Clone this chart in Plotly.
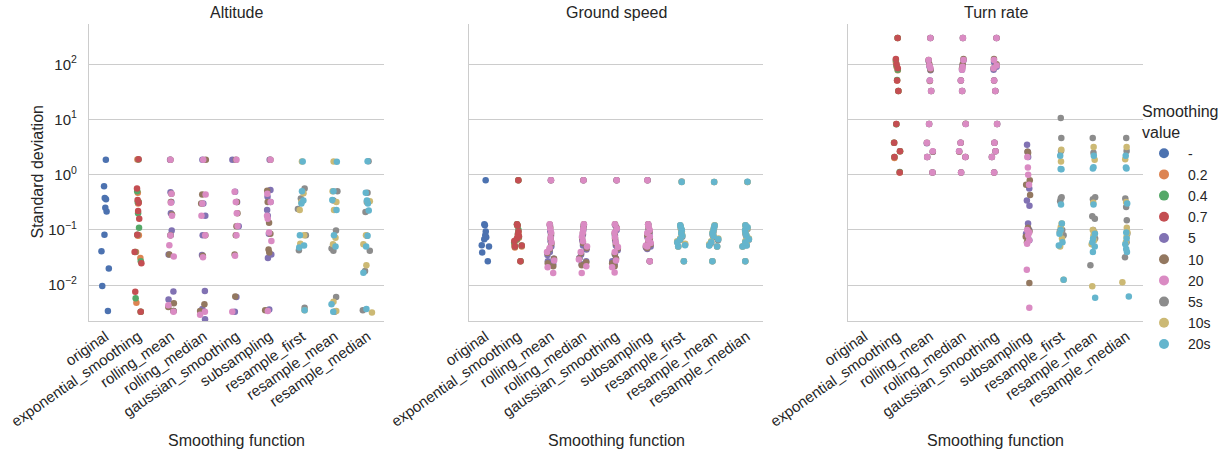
import plotly.graph_objects as go

# ---- categories, hues and colours -------------------------------------------
CATEGORIES = ["original", "exponential_smoothing", "rolling_mean", "rolling_median",
              "gaussian_smoothing", "subsampling", "resample_first", "resample_mean",
              "resample_median"]
HUES = ["-", "0.2", "0.4", "0.7", "5", "10", "20", "5s", "10s", "20s"]
HUE_COLORS = ["#4C72B0", "#DD8452", "#55A868", "#C44E52", "#8172B3",
              "#937860", "#DA8BC3", "#8C8C8C", "#CCB974", "#64B5CD"]
PANELS = ["Altitude", "Ground speed", "Turn rate"]
Y_TICK_VALUES = [0.01, 0.1, 1, 10, 100]
Y_TICK_TEXT = ["10<sup>−2</sup>", "10<sup>−1</sup>", "10<sup>0</sup>", "10<sup>1</sup>", "10<sup>2</sup>"]

# ---- Altitude: standard deviation per smoothing function and value ----------
alt_original = {"-": [1.87, 0.62, 0.377, 0.361, 0.252, 0.216, 0.082, 0.041, 0.020, 0.0096, 0.0034]}
alt_exponential_smoothing = {
    "0.2": [1.88, 0.47, 0.32, 0.30, 0.078, 0.08, 0.04, 0.031, 0.0048, 0.0033],
    "0.4": [1.88, 0.50, 0.32, 0.32, 0.20, 0.11, 0.082, 0.04, 0.027, 0.0058, 0.0033],
    "0.7": [1.90, 0.56, 0.35, 0.31, 0.22, 0.16, 0.082, 0.04, 0.025, 0.0076, 0.0033],
}
alt_rolling_mean = {
    "5": [1.87, 0.48, 0.32, 0.20, 0.098, 0.08, 0.036, 0.0077, 0.0055, 0.0034],
    "10": [1.87, 0.45, 0.32, 0.19, 0.08, 0.036, 0.0047, 0.004, 0.0034],
    "20": [1.87, 0.45, 0.31, 0.18, 0.079, 0.053, 0.033, 0.0043, 0.0033],
}
alt_rolling_median = {
    "5": [1.87, 0.30, 0.18, 0.08, 0.035, 0.0078, 0.0037, 0.0024],
    "10": [1.87, 0.44, 0.30, 0.08, 0.034, 0.0045, 0.0034],
    "20": [1.87, 0.44, 0.30, 0.18, 0.08, 0.032, 0.0033, 0.0029],
}
alt_gaussian_smoothing = {
    "5": [1.87, 0.49, 0.32, 0.116, 0.0061, 0.0033],
    "10": [1.87, 0.32, 0.20, 0.116, 0.08, 0.036, 0.0062],
    "20": [1.87, 0.49, 0.32, 0.20, 0.118, 0.08, 0.034, 0.0033],
}
alt_subsampling = {
    "5": [1.87, 0.53, 0.40, 0.32, 0.23, 0.18, 0.085, 0.036, 0.031, 0.0036],
    "10": [1.87, 0.51, 0.32, 0.135, 0.085, 0.044, 0.039, 0.0035],
    "20": [1.87, 0.45, 0.32, 0.18, 0.16, 0.09, 0.063, 0.0034],
}
alt_resample_first = {
    "5s": [0.56, 0.37, 0.24, 0.08, 0.043, 0.0039],
    "10s": [1.74, 0.46, 0.32, 0.23, 0.08, 0.056, 0.0035],
    "20s": [1.74, 0.50, 0.34, 0.30, 0.08, 0.052, 0.048, 0.0035],
}
alt_resample_mean = {
    "5s": [0.50, 0.34, 0.098, 0.046, 0.042, 0.0061, 0.0033],
    "10s": [1.74, 0.50, 0.32, 0.23, 0.072, 0.055, 0.005, 0.0034],
    "20s": [1.72, 0.50, 0.35, 0.23, 0.08, 0.05, 0.0045, 0.0033],
}
alt_resample_median = {
    "5s": [1.75, 0.47, 0.32, 0.21, 0.078, 0.042, 0.018, 0.0035],
    "10s": [0.33, 0.32, 0.08, 0.055, 0.023, 0.0032],
    "20s": [1.75, 0.47, 0.34, 0.30, 0.225, 0.078, 0.05, 0.0167, 0.0037],
}

# ---- Ground speed -----------------------------------------------------------
gs_original = {"-": [0.79, 0.126, 0.122, 0.094, 0.08, 0.074, 0.068, 0.053, 0.05, 0.039, 0.027]}
gs_exponential_smoothing = {
    "0.2": [0.79, 0.125, 0.118, 0.09, 0.08, 0.072, 0.066, 0.055, 0.05, 0.048, 0.027],
    "0.4": [0.79, 0.126, 0.12, 0.1, 0.085, 0.075, 0.068, 0.06, 0.052, 0.05, 0.027],
    "0.7": [0.795, 0.127, 0.12, 0.094, 0.082, 0.077, 0.07, 0.063, 0.052, 0.05, 0.027],
}
gs_rolling_mean = {
    "5": [0.79, 0.12, 0.095, 0.078, 0.062, 0.05, 0.04, 0.035, 0.03, 0.027, 0.024],
    "10": [0.79, 0.125, 0.11, 0.085, 0.07, 0.057, 0.045, 0.038, 0.03, 0.025, 0.022],
    "20": [0.79, 0.126, 0.105, 0.09, 0.072, 0.06, 0.047, 0.04, 0.028, 0.021, 0.0165],
}
gs_rolling_median = {
    "5": [0.79, 0.12, 0.1, 0.083, 0.065, 0.052, 0.044, 0.036, 0.031, 0.027, 0.024],
    "10": [0.795, 0.126, 0.11, 0.088, 0.072, 0.058, 0.047, 0.038, 0.03, 0.026, 0.023],
    "20": [0.79, 0.126, 0.105, 0.09, 0.075, 0.062, 0.05, 0.04, 0.029, 0.022, 0.0165],
}
gs_gaussian_smoothing = {
    "5": [0.79, 0.122, 0.1, 0.08, 0.064, 0.052, 0.043, 0.036, 0.03, 0.027, 0.024],
    "10": [0.795, 0.126, 0.108, 0.087, 0.07, 0.057, 0.046, 0.037, 0.03, 0.025, 0.022],
    "20": [0.79, 0.126, 0.106, 0.09, 0.074, 0.06, 0.049, 0.04, 0.028, 0.021, 0.017],
}
gs_subsampling = {
    "5": [0.79, 0.125, 0.1, 0.085, 0.074, 0.063, 0.056, 0.05, 0.048, 0.045, 0.027],
    "10": [0.79, 0.126, 0.11, 0.095, 0.08, 0.07, 0.06, 0.055, 0.05, 0.047, 0.027],
    "20": [0.795, 0.126, 0.115, 0.1, 0.088, 0.075, 0.066, 0.058, 0.052, 0.05, 0.027],
}
gs_resample_first = {
    "5s": [0.75, 0.12, 0.105, 0.095, 0.085, 0.075, 0.066, 0.06, 0.055, 0.05, 0.027],
    "10s": [0.74, 0.12, 0.11, 0.1, 0.09, 0.08, 0.07, 0.062, 0.056, 0.05, 0.027],
    "20s": [0.74, 0.121, 0.112, 0.1, 0.088, 0.078, 0.068, 0.06, 0.053, 0.05, 0.027],
}
gs_resample_mean = {
    "5s": [0.74, 0.12, 0.105, 0.092, 0.082, 0.074, 0.065, 0.058, 0.053, 0.05, 0.027],
    "10s": [0.74, 0.122, 0.11, 0.1, 0.09, 0.079, 0.07, 0.062, 0.055, 0.05, 0.027],
    "20s": [0.735, 0.12, 0.11, 0.098, 0.087, 0.077, 0.068, 0.06, 0.052, 0.05, 0.027],
}
gs_resample_median = {
    "5s": [0.74, 0.12, 0.104, 0.093, 0.083, 0.073, 0.066, 0.058, 0.053, 0.05, 0.027],
    "10s": [0.74, 0.121, 0.11, 0.1, 0.09, 0.08, 0.07, 0.062, 0.055, 0.05, 0.027],
    "20s": [0.745, 0.122, 0.112, 0.1, 0.088, 0.078, 0.068, 0.06, 0.052, 0.05, 0.027],
}

# ---- Turn rate --------------------------------------------------------------
tr_original = {"-": []}
tr_exponential_smoothing = {
    "0.2": [300, 110, 90, 78, 51, 33, 8.3, 3.8, 2.65, 2.0, 1.1],
    "0.4": [300, 120, 95, 80, 52, 33, 8.2, 3.8, 2.65, 2.1, 1.12],
    "0.7": [300, 125, 100, 85, 51, 33, 8.3, 3.8, 2.65, 2.1, 1.1],
}
tr_rolling_mean = {
    "5": [300, 115, 92, 78, 51, 33, 8.3, 3.7, 2.6, 2.1, 1.1],
    "10": [300, 120, 100, 80, 50, 33, 8.3, 3.8, 2.6, 2.1, 1.1],
    "20": [300, 120, 95, 85, 51, 33, 8.3, 3.8, 2.65, 2.1, 1.1],
}
tr_rolling_median = {
    "5": [300, 118, 95, 80, 51, 33, 8.3, 3.8, 2.65, 2.1, 1.1],
    "10": [300, 125, 100, 85, 51, 33, 8.4, 3.8, 2.6, 2.1, 1.1],
    "20": [300, 120, 90, 80, 51, 33, 8.3, 3.8, 2.65, 2.1, 1.1],
}
tr_gaussian_smoothing = {
    "5": [300, 110, 90, 80, 51, 33, 8.3, 3.8, 2.65, 2.1, 1.1],
    "10": [300, 125, 100, 85, 51, 33, 8.3, 3.8, 2.65, 2.1, 1.1],
    "20": [300, 120, 95, 85, 51, 33, 8.3, 3.8, 2.65, 2.1, 1.1],
}
tr_subsampling = {
    "5": [3.5, 2.6, 2.1, 0.56, 0.34, 0.275, 0.13, 0.1, 0.085, 0.075, 0.065],
    "10": [2.6, 2.5, 0.79, 0.66, 0.43, 0.11, 0.095, 0.075, 0.06, 0.0109],
    "20": [2.1, 1.35, 1.0, 0.66, 0.1, 0.09, 0.08, 0.065, 0.056, 0.019, 0.0039],
}
tr_resample_first = {
    "5s": [10.6, 4.6, 2.68, 0.39, 0.37, 0.33, 0.1, 0.095, 0.08],
    "10s": [2.84, 1.74, 0.13, 0.112, 0.09, 0.07, 0.05, 0.0125],
    "20s": [2.2, 1.27, 1.25, 0.29, 0.13, 0.1, 0.085, 0.06, 0.052, 0.0125],
}
tr_resample_mean = {
    "5s": [4.6, 2.5, 0.39, 0.36, 0.176, 0.16, 0.1, 0.07, 0.0228],
    "10s": [3.16, 1.87, 0.31, 0.1, 0.09, 0.08, 0.065, 0.055, 0.0095],
    "20s": [2.2, 1.37, 1.3, 0.29, 0.085, 0.07, 0.06, 0.05, 0.04, 0.0059],
}
tr_resample_median = {
    "5s": [4.6, 2.7, 0.37, 0.26, 0.149, 0.085, 0.06, 0.032],
    "10s": [3.16, 1.9, 0.32, 0.11, 0.09, 0.075, 0.06, 0.0113],
    "20s": [2.2, 1.35, 1.3, 0.3, 0.09, 0.07, 0.055, 0.045, 0.04, 0.0062],
}

PANEL_DATA = [
    [alt_original, alt_exponential_smoothing, alt_rolling_mean, alt_rolling_median,
     alt_gaussian_smoothing, alt_subsampling, alt_resample_first, alt_resample_mean,
     alt_resample_median],
    [gs_original, gs_exponential_smoothing, gs_rolling_mean, gs_rolling_median,
     gs_gaussian_smoothing, gs_subsampling, gs_resample_first, gs_resample_mean,
     gs_resample_median],
    [tr_original, tr_exponential_smoothing, tr_rolling_mean, tr_rolling_median,
     tr_gaussian_smoothing, tr_subsampling, tr_resample_first, tr_resample_mean,
     tr_resample_median],
]

# ---- layout geometry (pixels in a 1232 x 457 canvas) -------------------------
W, H = 1232, 457
PANEL_X = [(89, 384), (469, 763), (848, 1143)]
PANEL_TOP, PANEL_BOTTOM = 24, 321
TEXT = "#262626"
GRID = "#cccccc"
FONT = "Liberation Sans, Arial, sans-serif"

fig = go.Figure()

# strip plots: one invisible box per hue, showing only its jittered points
for p, panel in enumerate(PANEL_DATA):
    axis_suffix = "" if p == 0 else str(p + 1)
    for hue, color in zip(HUES, HUE_COLORS):
        xs, ys = [], []
        for cat, cat_data in zip(CATEGORIES, panel):
            for v in cat_data.get(hue, []):
                xs.append(cat)
                ys.append(v)
        if not ys:
            continue
        fig.add_trace(go.Box(
            x=xs, y=ys, name=hue,
            boxpoints="all", jitter=1, pointpos=0, width=0.3,
            fillcolor="rgba(0,0,0,0)", line=dict(width=0, color="rgba(0,0,0,0)"),
            whiskerwidth=0,
            marker=dict(color=color, size=6.5, line=dict(width=0)),
            hoveron="points", showlegend=False,
            xaxis="x" + axis_suffix, yaxis="y" + axis_suffix,
        ))

# legend entries drawn as round markers
for hue, color in zip(HUES, HUE_COLORS):
    fig.add_trace(go.Scatter(
        x=[None], y=[None], mode="markers", name=hue,
        marker=dict(color=color, size=10), showlegend=True,
        xaxis="x3", yaxis="y3",
    ))

layout = dict(
    width=W, height=H,
    margin=dict(l=0, r=0, t=0, b=0),
    paper_bgcolor="white", plot_bgcolor="white",
    boxmode="overlay",
    font=dict(family=FONT, color=TEXT, size=15),
    legend=dict(
        title=dict(text="Smoothing<br>value", font=dict(size=16, color=TEXT)),
        font=dict(size=14, color=TEXT),
        x=1140 / W, xanchor="left", y=1 - 96 / H, yanchor="top",
        itemwidth=38,
        tracegroupgap=0, bgcolor="rgba(0,0,0,0)",
    ),
)

y_domain = [1 - PANEL_BOTTOM / H, 1 - PANEL_TOP / H]
annotations = []
for p, (x0, x1) in enumerate(PANEL_X):
    suffix = "" if p == 0 else str(p + 1)
    layout["xaxis" + suffix] = dict(
        domain=[x0 / W, x1 / W], anchor="y" + suffix,
        type="category", categoryorder="array", categoryarray=CATEGORIES,
        range=[-0.5, len(CATEGORIES) - 0.5],
        showgrid=False, zeroline=False,
        showline=True, linecolor=GRID, linewidth=1.25,
        ticks="", tickangle=-35, tickfont=dict(size=15, color=TEXT),
        automargin=False,
    )
    layout["yaxis" + suffix] = dict(
        domain=y_domain, anchor="x" + suffix,
        type="log", range=[-2.65, 2.73],
        tickvals=Y_TICK_VALUES, ticktext=Y_TICK_TEXT,
        showticklabels=(p == 0),
        showgrid=True, gridcolor=GRID, gridwidth=1.2,
        zeroline=False, showline=True, linecolor=GRID, linewidth=1.25,
        ticks="", ticklabelstandoff=8, tickfont=dict(size=15, color=TEXT),
        automargin=False,
    )
    xc = (x0 + x1) / 2 / W
    annotations.append(dict(text=PANELS[p], x=xc, y=1 - 12.5 / H, xref="paper", yref="paper",
                            xanchor="center", yanchor="middle", showarrow=False,
                            font=dict(size=16, color=TEXT)))
    annotations.append(dict(text="Smoothing function", x=xc, y=1 - 440 / H,
                            xref="paper", yref="paper", xanchor="center", yanchor="middle",
                            showarrow=False, font=dict(size=16, color=TEXT)))

annotations.append(dict(text="Standard deviation", x=37 / W, y=1 - 172.5 / H,
                        xref="paper", yref="paper", xanchor="center", yanchor="middle",
                        textangle=-90, showarrow=False, font=dict(size=16, color=TEXT)))
layout["annotations"] = annotations

fig.update_layout(**layout)
fig.write_html("out.html")
